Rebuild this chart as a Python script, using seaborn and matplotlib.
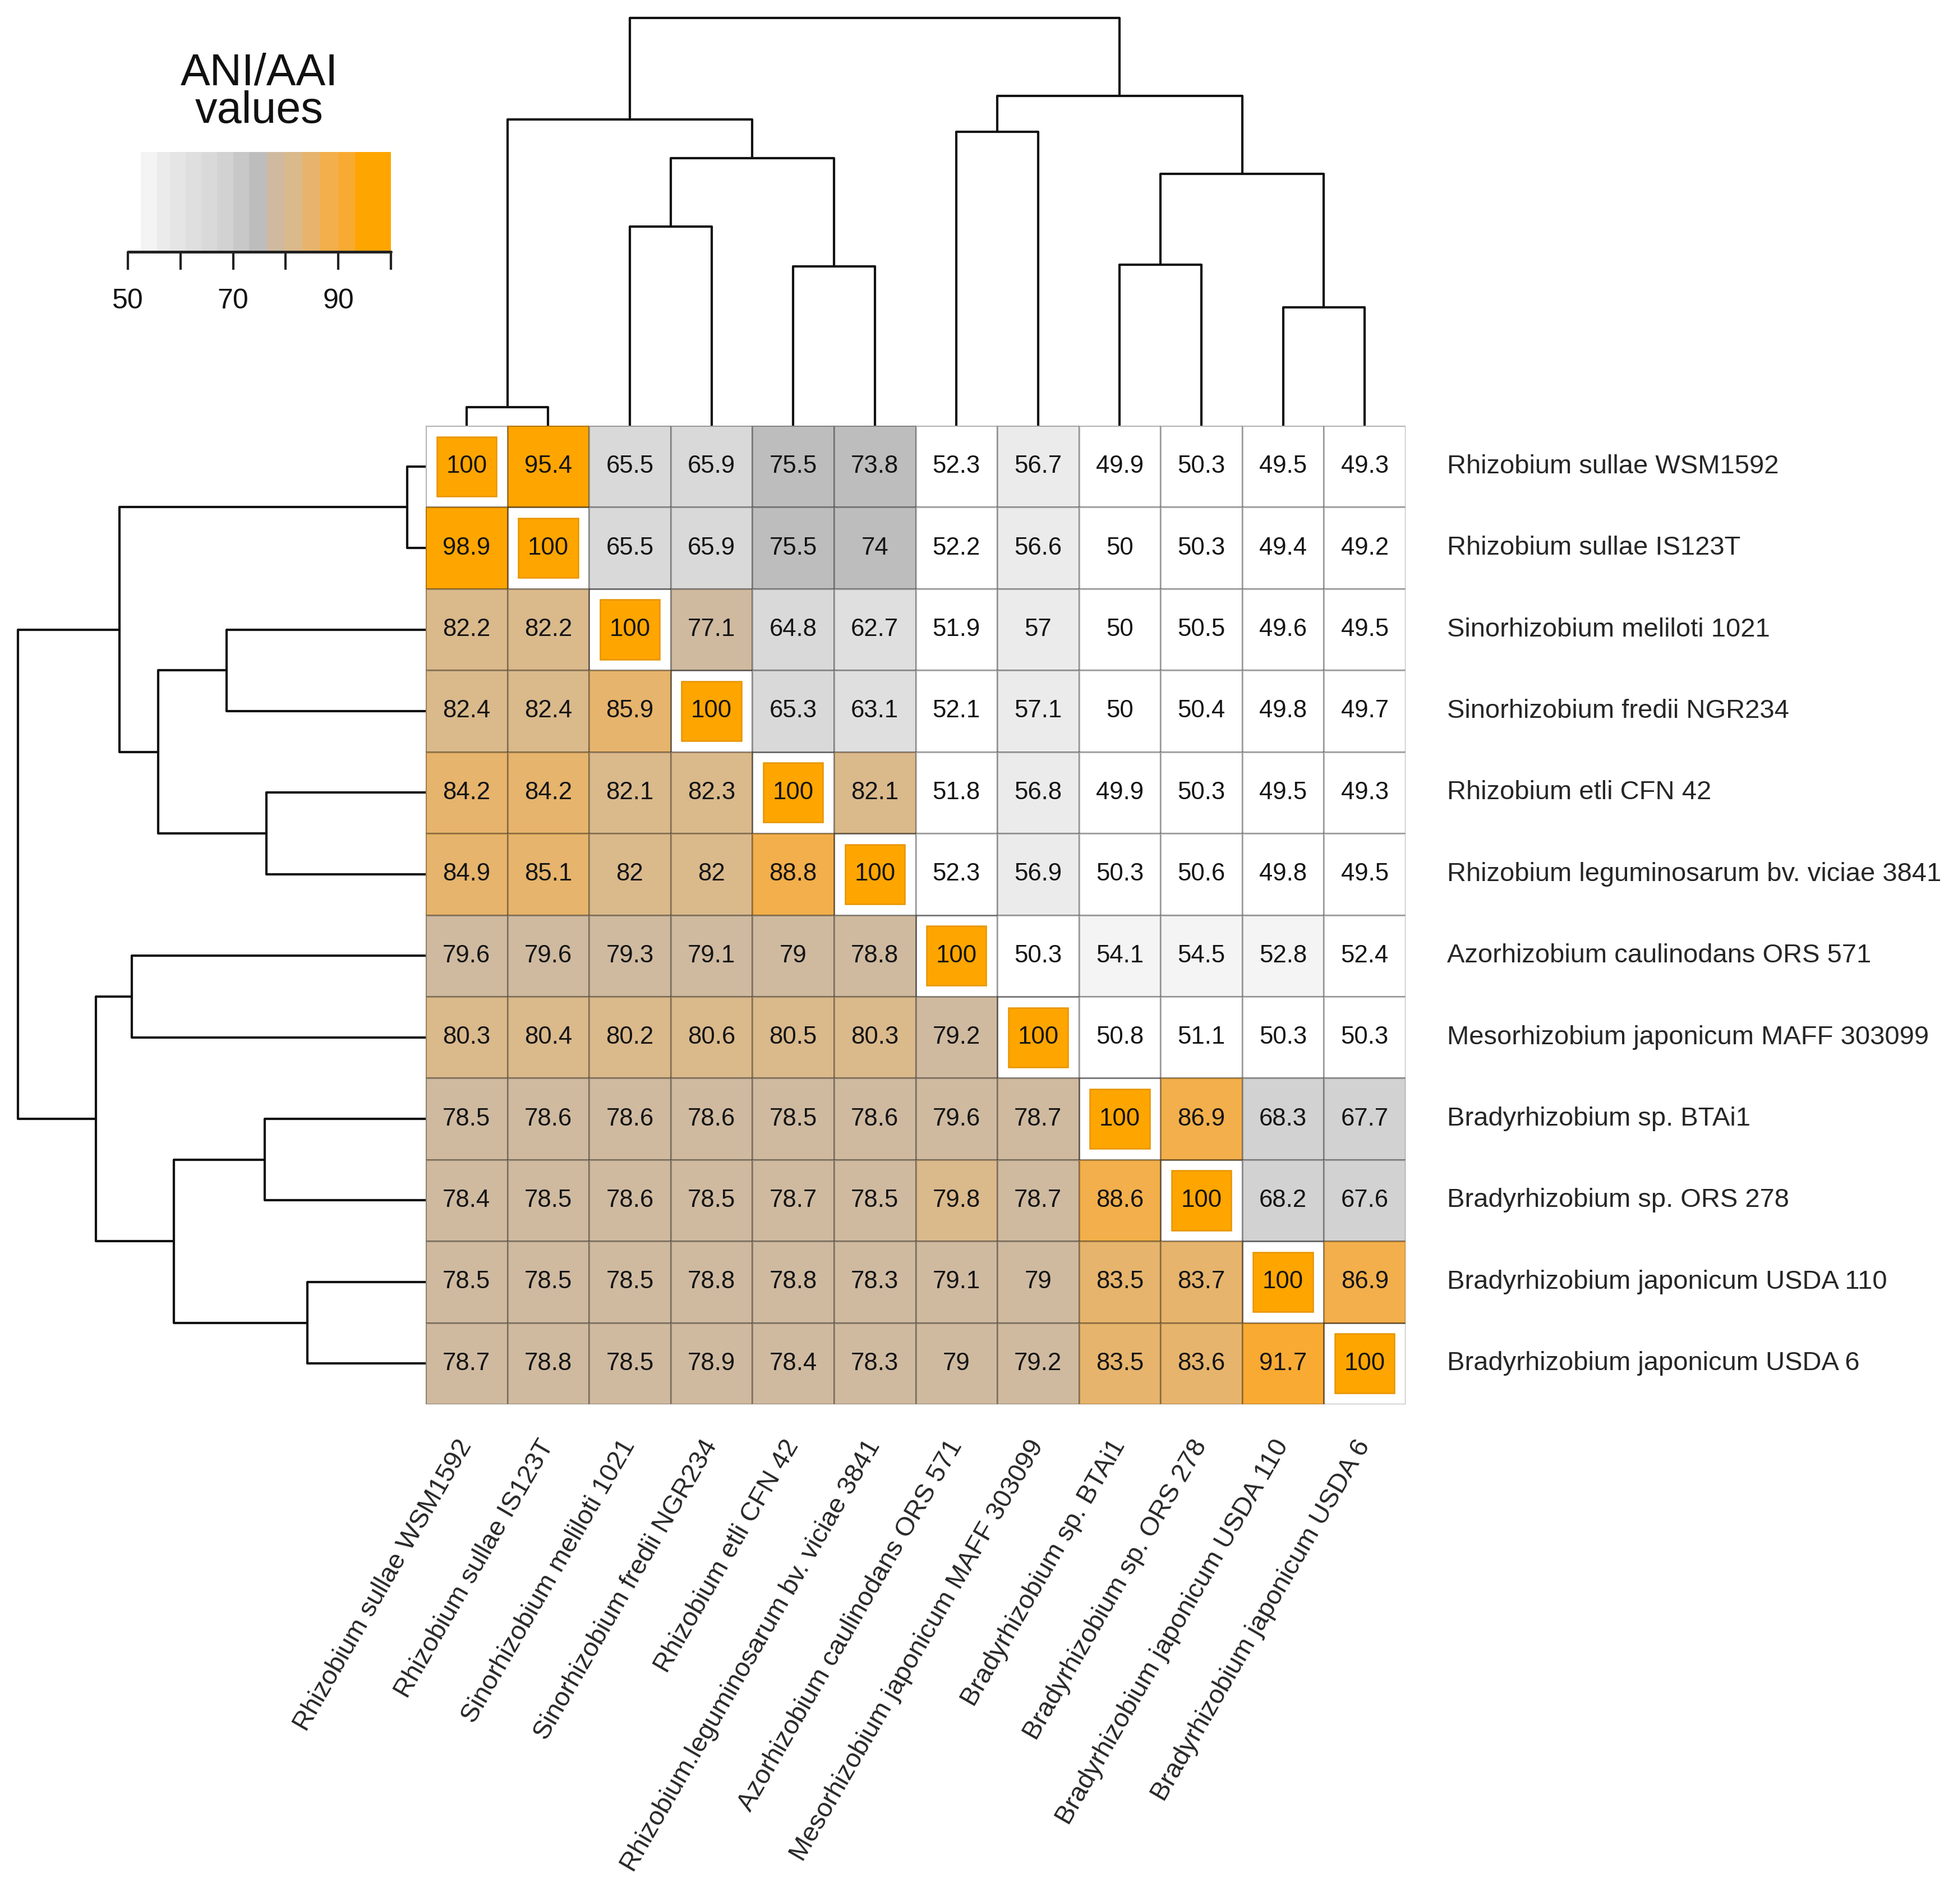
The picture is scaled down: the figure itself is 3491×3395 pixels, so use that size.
import matplotlib
matplotlib.use("Agg")
import matplotlib.pyplot as plt
import matplotlib.cm as cm
import seaborn as sns
import numpy as np
import pandas as pd
from matplotlib.colors import ListedColormap, BoundaryNorm
from matplotlib.patches import Rectangle
from matplotlib.ticker import NullLocator

# ── Data ──────────────────────────────────────────────────────────────────────
row_labels = [
    "Rhizobium sullae WSM1592",
    "Rhizobium sullae IS123T",
    "Sinorhizobium meliloti 1021",
    "Sinorhizobium fredii NGR234",
    "Rhizobium etli CFN 42",
    "Rhizobium leguminosarum bv. viciae 3841",
    "Azorhizobium caulinodans ORS 571",
    "Mesorhizobium japonicum MAFF 303099",
    "Bradyrhizobium sp. BTAi1",
    "Bradyrhizobium sp. ORS 278",
    "Bradyrhizobium japonicum USDA 110",
    "Bradyrhizobium japonicum USDA 6",
]
col_labels = [
    "Rhizobium sullae WSM1592",
    "Rhizobium sullae IS123T",
    "Sinorhizobium meliloti 1021",
    "Sinorhizobium fredii NGR234",
    "Rhizobium etli CFN 42",
    "Rhizobium.leguminosarum bv. viciae 3841",
    "Azorhizobium caulinodans ORS 571",
    "Mesorhizobium japonicum MAFF 303099",
    "Bradyrhizobium sp. BTAi1",
    "Bradyrhizobium sp. ORS 278",
    "Bradyrhizobium japonicum USDA 110",
    "Bradyrhizobium japonicum USDA 6",
]

ani = [
    [100, 95.4, 65.5, 65.9, 75.5, 73.8, 52.3, 56.7, 49.9, 50.3, 49.5, 49.3],
    [98.9, 100, 65.5, 65.9, 75.5, 74, 52.2, 56.6, 50, 50.3, 49.4, 49.2],
    [82.2, 82.2, 100, 77.1, 64.8, 62.7, 51.9, 57, 50, 50.5, 49.6, 49.5],
    [82.4, 82.4, 85.9, 100, 65.3, 63.1, 52.1, 57.1, 50, 50.4, 49.8, 49.7],
    [84.2, 84.2, 82.1, 82.3, 100, 82.1, 51.8, 56.8, 49.9, 50.3, 49.5, 49.3],
    [84.9, 85.1, 82, 82, 88.8, 100, 52.3, 56.9, 50.3, 50.6, 49.8, 49.5],
    [79.6, 79.6, 79.3, 79.1, 79, 78.8, 100, 50.3, 54.1, 54.5, 52.8, 52.4],
    [80.3, 80.4, 80.2, 80.6, 80.5, 80.3, 79.2, 100, 50.8, 51.1, 50.3, 50.3],
    [78.5, 78.6, 78.6, 78.6, 78.5, 78.6, 79.6, 78.7, 100, 86.9, 68.3, 67.7],
    [78.4, 78.5, 78.6, 78.5, 78.7, 78.5, 79.8, 78.7, 88.6, 100, 68.2, 67.6],
    [78.5, 78.5, 78.5, 78.8, 78.8, 78.3, 79.1, 79, 83.5, 83.7, 100, 86.9],
    [78.7, 78.8, 78.5, 78.9, 78.4, 78.3, 79, 79.2, 83.5, 83.6, 91.7, 100],
]

# tree merges (child a, child b, height); leaves are 0..11, new nodes from 12 on
# same tree on both rows and columns
merges = [
    (0, 1, 33),
    (2, 3, 355),
    (4, 5, 284),
    (6, 7, 524),
    (8, 9, 287),
    (10, 11, 211),
    (13, 14, 477),
    (12, 18, 546),
    (16, 17, 449),
    (15, 20, 588),
    (19, 21, 727),
]

# colour key: bin edges and bin colours (white -> grey -> tan -> orange)
bounds = [50, 52.5, 55.5, 58, 61, 64, 67, 70, 73, 76.4, 79.7, 83.2, 86.5, 90, 93.2, 100]
bin_colors = ["#ffffff", "#f4f4f4", "#ebebeb", "#e5e5e5", "#dfdfdf", "#d9d9d9",
              "#d2d2d2", "#c8c8c8", "#bdbdbd", "#cfbaa0", "#dab98b", "#e6b46c",
              "#f2af4b", "#f9aa33", "#ffa500"]
key_ticks = [50, 60, 70, 80, 90, 100]
key_ticklabels = ["50", "", "70", "", "90", ""]
key_title = "ANI/AAI\nvalues"

# ── Setup ─────────────────────────────────────────────────────────────────────
sns.set_theme(style="white")
plt.rcParams["font.family"] = ["Liberation Sans", "DejaVu Sans"]

W, H, DPI = 3491, 3395, 300
fig = plt.figure(figsize=(W / DPI, H / DPI), dpi=DPI)


def px_box(x0, y0, x1, y1):
    return [x0 / W, 1 - y1 / H, (x1 - x0) / W, (y1 - y0) / H]


def dendro_segments(merges, n):
    pos = {i: i + 0.5 for i in range(n)}
    hgt = {i: 0.0 for i in range(n)}
    segs = []
    for k, (a, b, h) in enumerate(merges):
        xa, xb = pos[a], pos[b]
        segs.append(([xa, xa, xb, xb], [hgt[a], h, h, hgt[b]]))
        pos[n + k] = (xa + xb) / 2
        hgt[n + k] = h
    return segs


n = len(row_labels)
root_h = merges[-1][2]
segs = dendro_segments(merges, n)

cmap = ListedColormap(bin_colors)
cmap.set_under("white")
cmap.set_over(bin_colors[-1])
norm = BoundaryNorm(bounds, cmap.N)

# ── Heatmap ───────────────────────────────────────────────────────────────────
ax = fig.add_axes(px_box(759, 759, 2506, 2504))
df = pd.DataFrame(ani, index=row_labels, columns=col_labels)
annot = df.map(lambda v: f"{v:g}")
diag = np.eye(n, dtype=bool)

sns.heatmap(df, ax=ax, mask=diag, cmap=cmap, norm=norm, annot=annot, fmt="",
            cbar=False, linewidths=0.7, linecolor=(0, 0, 0, 0.3),
            annot_kws={"fontsize": 10.5, "color": "#141414"})

# diagonal: white cell with an inset orange square
for i in range(n):
    ax.add_patch(Rectangle((i + 0.135, i + 0.135), 0.73, 0.73,
                           facecolor="#ffa500", edgecolor="#e69500", lw=0.6, zorder=3))
    ax.text(i + 0.5, i + 0.5, f"{ani[i][i]:g}", ha="center", va="center",
            fontsize=10.5, color="#141414", zorder=4)

ax.yaxis.tick_right()
ax.set_yticks(np.arange(n) + 0.5)
ax.set_yticklabels(row_labels, rotation=0, ha="left", va="center", fontsize=11.3)
ax.set_xticks(np.arange(n) + 0.5)
ax.set_xticklabels(col_labels, fontsize=11.3)
plt.setp(ax.get_xticklabels(), rotation=60, ha="right", va="center",
         rotation_mode="anchor")
ax.tick_params(axis="y", length=0, pad=17.8)
ax.tick_params(axis="x", length=0, pad=16)
ax.set_xlabel("")
ax.set_ylabel("")

# ── Dendrograms ───────────────────────────────────────────────────────────────
ax_top = fig.add_axes(px_box(759, 32, 2506, 759))
for xs, ys in segs:
    ax_top.plot(xs, ys, color="#111111", lw=1.0, clip_on=False,
                solid_capstyle="butt")
ax_top.set_xlim(0, n)
ax_top.set_ylim(0, root_h)
ax_top.axis("off")

ax_left = fig.add_axes(px_box(32, 759, 759, 2504))
for xs, ys in segs:
    ax_left.plot(ys, xs, color="#111111", lw=1.0, clip_on=False,
                 solid_capstyle="butt")
ax_left.set_xlim(root_h, 0)
ax_left.set_ylim(n, 0)
ax_left.axis("off")

# ── Colour key ────────────────────────────────────────────────────────────────
cax = fig.add_axes(px_box(228, 271, 697, 449))
sm = cm.ScalarMappable(norm=norm, cmap=cmap)
cb = fig.colorbar(sm, cax=cax, orientation="horizontal", spacing="proportional",
                  ticks=key_ticks)
cb.outline.set_visible(False)
cb.set_ticklabels(key_ticklabels)
cax.xaxis.set_minor_locator(NullLocator())
cax.tick_params(which="major", length=7.7, width=1.0, pad=8, labelsize=12,
                color="#222222", labelcolor="#111111")
cax.axhline(0, color="#222222", lw=1.2, clip_on=False)

fig.text(462 / W, 1 - 94 / H, key_title, ha="center", va="top",
         multialignment="center", linespacing=0.86, fontsize=19, color="#111111")

fig.savefig("out.png", dpi=DPI, facecolor="white")
